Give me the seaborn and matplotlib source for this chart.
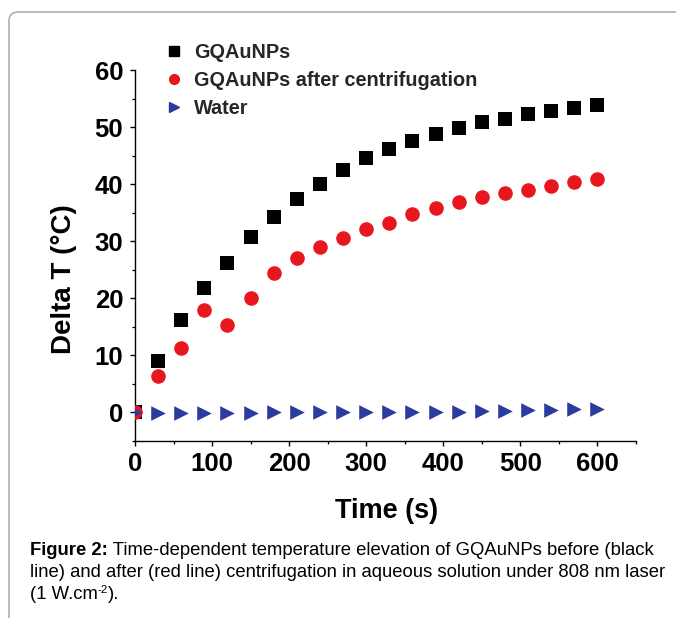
import numpy as np
import pandas as pd
import matplotlib
matplotlib.use("Agg")
import matplotlib.pyplot as plt
import seaborn as sns
from matplotlib.lines import Line2D
from matplotlib.patches import FancyBboxPatch
from matplotlib.ticker import MultipleLocator

# ---- data ----
time_s = [0, 30, 60, 90, 120, 150, 180, 210, 240, 270, 300, 330, 360, 390, 420,
          450, 480, 510, 540, 570, 600]
gqaunps = [0, 8.9, 16.1, 21.7, 26.2, 30.7, 34.2, 37.3, 40.0, 42.5, 44.6, 46.1,
           47.6, 48.7, 49.8, 50.8, 51.4, 52.3, 52.8, 53.4, 53.8]
gqaunps_centrifuged = [0, 6.4, 11.3, 18.0, 15.3, 20.1, 24.4, 27.0, 28.9, 30.5,
                       32.1, 33.1, 34.8, 35.8, 36.9, 37.7, 38.5, 39.0, 39.7,
                       40.3, 40.8]
water = [0, -0.2, -0.2, -0.2, -0.1, -0.1, 0, 0, 0, 0, 0, 0, 0.1, 0.1, 0.1,
         0.2, 0.2, 0.3, 0.4, 0.5, 0.6]
series_names = ["GQAuNPs", "GQAuNPs after centrifugation", "Water"]
x_ticks = [0, 100, 200, 300, 400, 500, 600]
y_ticks = [0, 10, 20, 30, 40, 50, 60]
x_label = "Time (s)"
y_label = "Delta T (\u00b0C)"
caption_bold = "Figure 2:"
caption_rest_line1 = " Time-dependent temperature elevation of GQAuNPs before (black"
caption_line2 = "line) and after (red line) centrifugation in aqueous solution under 808 nm laser"
caption_line3_parts = ["(1 W.cm", "-2", ")."]

colors = ["#000000", "#e8161e", "#2b3b9e"]
markers = ["s", "o", ">"]
sizes = [100, 110, 110]

sns.set_theme(style="white")
FONT = "Liberation Sans"
plt.rcParams["font.family"] = [FONT, "DejaVu Sans"]

df = pd.DataFrame({
    "time": time_s * 3,
    "dT": gqaunps + gqaunps_centrifuged + water,
    "series": [series_names[0]] * len(time_s) + [series_names[1]] * len(time_s)
              + [series_names[2]] * len(time_s),
})

fig = plt.figure(figsize=(6.76, 6.18), dpi=100)
W, H = 676, 618
AX_L, AX_R, AX_T, AX_B = 135, 636, 70, 440.7
ax = fig.add_axes([AX_L / W, 1 - AX_B / H, (AX_R - AX_L) / W, (AX_B - AX_T) / H])

for name, c, m, s in zip(series_names, colors, markers, sizes):
    sub = df[df["series"] == name]
    sns.scatterplot(data=sub, x="time", y="dT", ax=ax, color=c, marker=m, s=s,
                    linewidth=0, legend=False, zorder=3)

ax.set_xlim(0, 650)
ax.set_ylim(-5, 60)
ax.set_xticks(x_ticks)
ax.set_yticks(y_ticks)
ax.xaxis.set_minor_locator(MultipleLocator(50))
ax.yaxis.set_minor_locator(MultipleLocator(5))
for side in ["top", "right"]:
    ax.spines[side].set_visible(False)
for side in ["left", "bottom"]:
    ax.spines[side].set_color("black")
    ax.spines[side].set_linewidth(1.0)
ax.tick_params(which="major", direction="out", length=3.5, width=1.0,
               color="black", labelsize=18.5, labelcolor="black")
ax.tick_params(which="minor", direction="out", length=2.2, width=0.9,
               color="black")
ax.tick_params(axis="x", which="both", bottom=True, pad=4.5)
ax.tick_params(axis="y", which="both", left=True, pad=5)
for lab in ax.get_xticklabels() + ax.get_yticklabels():
    lab.set_fontweight("bold")
ax.grid(False)
ax.set_xlabel(x_label, fontsize=19.5, fontweight="bold", color="black")
ax.set_ylabel(y_label, fontsize=20, fontweight="bold", color="black")
aw, ah = AX_R - AX_L, AX_B - AX_T
ax.xaxis.set_label_coords((386.5 - AX_L) / aw, (AX_B - 498) / ah)
ax.yaxis.set_label_coords((77 - AX_L) / aw, (AX_B - 279) / ah)

handles = [Line2D([], [], linestyle="none", marker=m, color=c, markersize=ms)
           for m, c, ms in zip(markers, colors, [6.5, 7, 7.5])]
leg = ax.legend(handles, series_names, loc="upper left", frameon=False,
                bbox_to_anchor=(167 / W, 1 - 43 / H), bbox_transform=fig.transFigure,
                prop={"family": FONT, "weight": "bold", "size": 14.3},
                handlelength=0.7, handletextpad=0.68, labelspacing=0.46,
                borderaxespad=0, borderpad=0)

# caption
cap_size = 13.3
renderer = fig.canvas.get_renderer()
t_bold = fig.text(30 / W, 1 - 555 / H, caption_bold, fontsize=cap_size,
                  fontweight="bold", color="black", va="baseline")
bb = t_bold.get_window_extent(renderer=renderer)
fig.text(bb.x1 / W, 1 - 555 / H, caption_rest_line1, fontsize=cap_size,
         color="black", va="baseline")
fig.text(30 / W, 1 - 577 / H, caption_line2, fontsize=cap_size, color="black",
         va="baseline")
t3a = fig.text(30 / W, 1 - 599 / H, caption_line3_parts[0], fontsize=cap_size,
               color="black", va="baseline")
bb3 = t3a.get_window_extent(renderer=renderer)
t3b = fig.text(bb3.x1 / W, 1 - 593 / H, caption_line3_parts[1], fontsize=cap_size * 0.62,
               color="black", va="baseline")
bb3b = t3b.get_window_extent(renderer=renderer)
fig.text(bb3b.x1 / W, 1 - 599 / H, caption_line3_parts[2], fontsize=cap_size,
         color="black", va="baseline")

# frame
frame = FancyBboxPatch((9 / W, -0.2), 1.2, 1.2 - 12 / H,
                       boxstyle="round,pad=0,rounding_size=0.014",
                       transform=fig.transFigure, fill=False,
                       edgecolor="#a0a0a0", linewidth=1.0, zorder=0)
fig.patches.append(frame)

fig.savefig("out.png", dpi=100)
